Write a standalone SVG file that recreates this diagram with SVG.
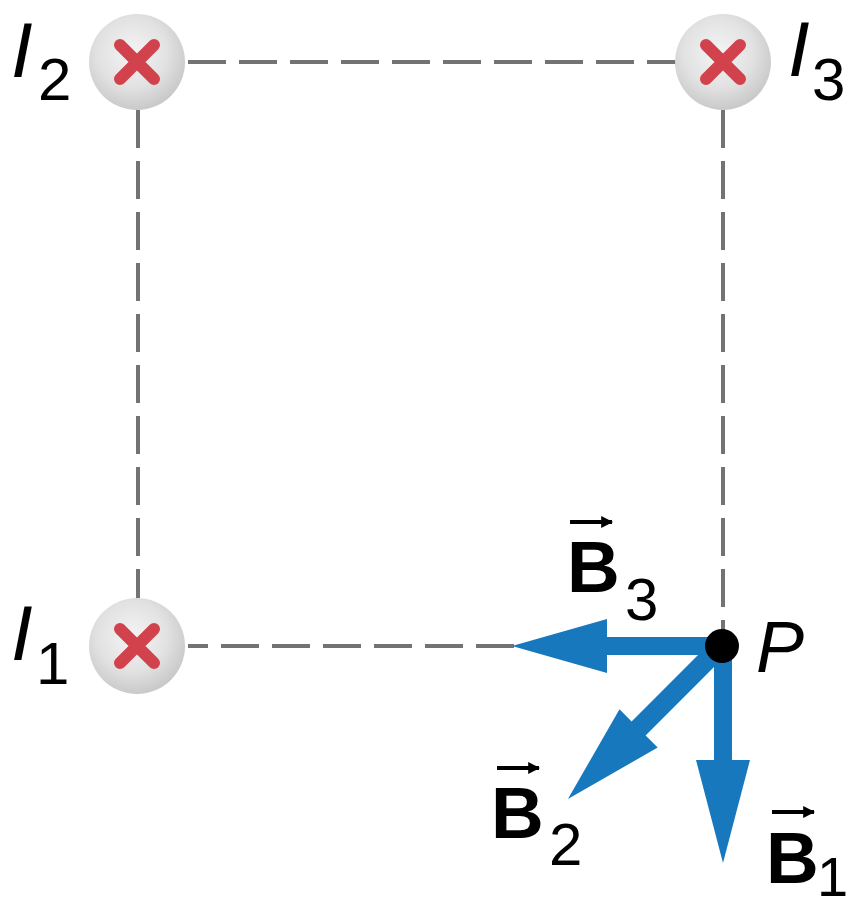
<svg xmlns="http://www.w3.org/2000/svg" width="854" height="910" viewBox="0 0 854 910">
<style>
.dash{stroke:#737373;stroke-width:4;stroke-dasharray:38 13;fill:none}
.vec{fill:#1878be}
.lbl{font-family:"Liberation Sans",Arial,sans-serif;fill:#000}
.it{font-style:italic}
.bd{font-weight:bold}
.x{stroke:#d1424c;stroke-width:12;stroke-linecap:round}
.ar{stroke:#000;stroke-width:4}
</style>
<defs>
<radialGradient id="g" cx="0.45" cy="0.4" r="0.6">
<stop offset="0" stop-color="#f4f4f4"/>
<stop offset="0.6" stop-color="#e2e2e2"/>
<stop offset="1" stop-color="#c9c9c9"/>
</radialGradient>
<marker id="ah" viewBox="0 0 10 10" refX="9" refY="5" markerWidth="3" markerHeight="3" orient="auto" markerUnits="strokeWidth">
<path d="M0,0 L10,5 L0,10 Z" fill="#000"/>
</marker>
</defs>
<g id="connectors">
<line class="dash" x1="188" y1="62" x2="676" y2="62"/>
<line class="dash" x1="138" y1="110" x2="138" y2="598"/>
<line class="dash" x1="723" y1="110" x2="723" y2="630"/>
<line class="dash" x1="188" y1="646" x2="515" y2="646" stroke-dashoffset="18"/>
</g>
<g id="I2">
<circle cx="137" cy="62" r="48" fill="url(#g)"/>
<path class="x" d="M120,45 L154,79 M154,45 L120,79"/>
<text class="lbl it" x="11" y="77" font-size="78">I</text>
<text class="lbl" x="38" y="100" font-size="60">2</text>
</g>
<g id="I3">
<circle cx="723" cy="62" r="48" fill="url(#g)"/>
<path class="x" d="M706,45 L740,79 M740,45 L706,79"/>
<text class="lbl it" x="788" y="76" font-size="78">I</text>
<text class="lbl" x="812" y="100" font-size="60">3</text>
</g>
<g id="I1">
<circle cx="137" cy="646" r="48" fill="url(#g)"/>
<path class="x" d="M120,629 L154,663 M154,629 L120,663"/>
<text class="lbl it" x="11" y="660" font-size="78">I</text>
<text class="lbl" x="36" y="684" font-size="60">1</text>
</g>
<g id="B3">
<path class="vec" d="M722,637 L607,637 L607,619 L512,646 L607,673 L607,655 L722,655 Z"/>
<line class="ar" x1="570" y1="522" x2="612" y2="522" marker-end="url(#ah)"/>
<text class="lbl bd" x="567" y="592" font-size="73">B</text>
<text class="lbl" x="625" y="620" font-size="60">3</text>
</g>
<g id="B2">
<path class="vec" d="M729,652 L645.6,735.4 L657.7,747.5 L567.9,799.1 L619.5,709.3 L631.6,721.4 L715,638 Z"/>
<line class="ar" x1="497" y1="768" x2="539" y2="768" marker-end="url(#ah)"/>
<text class="lbl bd" x="491" y="838" font-size="73">B</text>
<text class="lbl" x="549" y="865" font-size="60">2</text>
</g>
<g id="B1">
<path class="vec" d="M714,646 L714,760 L696,760 L723,863 L750,760 L732,760 L732,646 Z"/>
<line class="ar" x1="772" y1="812" x2="814" y2="812" marker-end="url(#ah)"/>
<text class="lbl bd" x="766" y="883" font-size="73">B</text>
<text class="lbl" x="817" y="896" font-size="56">1</text>
</g>
<g id="P">
<circle cx="722" cy="646" r="17" fill="#000"/>
<text class="lbl it" x="756" y="672" font-size="72">P</text>
</g>
</svg>
